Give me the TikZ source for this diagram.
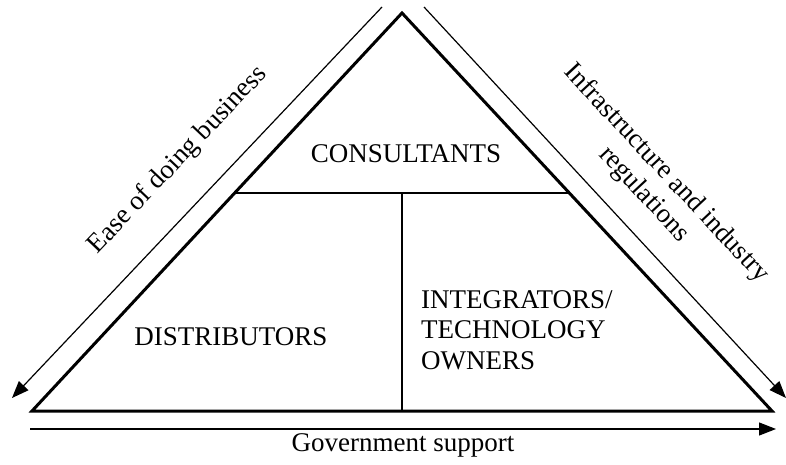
\documentclass[tikz,border=0pt]{standalone}
\usepackage{fontspec}
\setmainfont{Liberation Serif}
\usetikzlibrary{arrows.meta, calc, positioning}
\tikzstyle{line} = [draw, line width=1.2pt, -{Triangle[length=17pt,width=13pt]}]
\tikzstyle{edge} = [draw, line width=3pt, line join=miter]
\tikzstyle{part} = [draw, line width=1.6pt]
\tikzstyle{label} = [inner sep=0pt, font=\fontsize{27}{30.5}\selectfont]

\begin{document}
\begin{tikzpicture}[x=1pt, y=-1pt]
\useasboundingbox (0,0) rectangle (786,465);
\coordinate (apex) at (402,13);
\coordinate (bl) at (32,411);
\coordinate (br) at (772,411);
\coordinate (hl) at ($(bl)!0.548!(apex)$);
\coordinate (hr) at ($(br)!0.548!(apex)$);
\coordinate (split) at ($(hl)!0.5!(hr)$);
\coordinate (splitbase) at (split |- bl);
\coordinate (easetop) at (382,7);
\coordinate (easeend) at (12,398);
\coordinate (infratop) at (424,7);
\coordinate (infraend) at (786,398);
\coordinate (govstart) at (30,429);
\coordinate (govend) at (776,429);
\path [edge] (apex) -- (bl) -- (br) -- cycle;
\path [part] (hl) -- (hr);
\path [part] (split) -- (splitbase);
\node [label, anchor=base] (consultants) at (406,163) {CONSULTANTS};
\node [label, anchor=base] (distributors) at (231,345) {DISTRIBUTORS};
\node [label, align=left, anchor=north west] (integrators) at (421,290) {INTEGRATORS/\\TECHNOLOGY\\OWNERS};
\node [label, rotate=46.5] (ease) at (178,160) {Ease of doing business};
\node [label, rotate=-47, align=center] (infra) at (655,184) {Infrastructure and industry\\regulations};
\node [label, anchor=base] (government) at (403,451) {Government support};
\path [line] (easetop) -- (easeend);
\path [line] (infratop) -- (infraend);
\path [line] (govstart) -- (govend);
\end{tikzpicture}
\end{document}
